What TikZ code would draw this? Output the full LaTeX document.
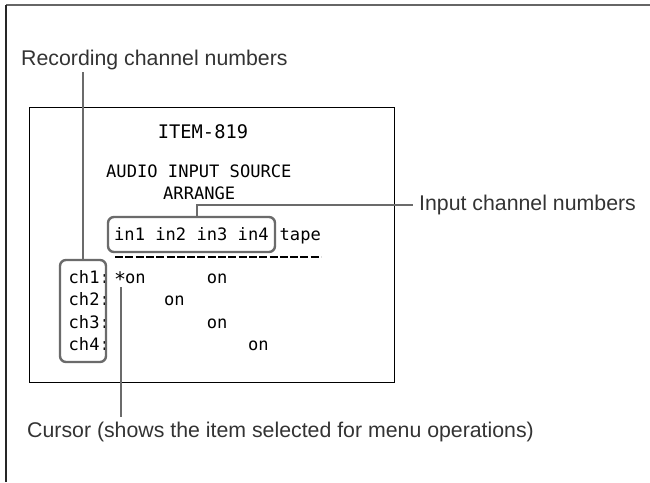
\documentclass[tikz,border=0pt]{standalone}
\usepackage{fontspec}
\setmainfont{Liberation Sans}
\newfontfamily\lcdfont{DejaVu Sans Mono}
\usetikzlibrary{positioning}

\begin{document}
\begin{tikzpicture}[
    x=1pt, y=-1pt,
    callout/.style={font=\fontsize{21.3}{24}\selectfont, text=black!80, inner sep=0pt},
    screen/.style={font=\lcdfont\fontsize{17.1}{20}\selectfont, inner sep=0pt},
    callbox/.style={draw=black!58, line width=2.4pt, rounded corners=6pt, inner sep=0pt},
    callline/.style={draw=black!58, line width=2.4pt}
]
\useasboundingbox (0,0) rectangle (650,482);

% Page frame
\draw[black!60, line width=2pt] (6,5) -- (650,5);
\draw[black!85, line width=1.2pt] (6,482) -- (6,5);

% Menu screen
\draw[line width=1pt] (29,107) rectangle (394,382);
\node[screen, font=\lcdfont\fontsize{18.7}{22}\selectfont, anchor=base] (title) at (203,138) {ITEM-819};
\node[screen, anchor=base west] (head1) at (106,177) {AUDIO INPUT SOURCE};
\node[screen, anchor=base west] (head2) at (163,199) {ARRANGE};
\node[screen, anchor=base west] (inputs) at (114,240) {in1 in2 in3 in4};
\node[screen, anchor=base west] (tape) at (279.5,240) {tape};
\draw[dash pattern=on 8pt off 2.3pt, line width=1.3pt] (115,257) -- (321,257);

% Channel rows
\foreach \n/\y in {1/283,2/305.5,3/328,4/350.5}
    \node[screen, anchor=base west] (ch\n) at (68.5,\y) {ch\n:};
\node[screen, anchor=base west] (star) at (114,283) {\raisebox{-3.5pt}{\fontsize{20}{20}\selectfont*}};
\node[screen, anchor=base west] (on11) at (125,283) {on};
\node[screen, anchor=base west] (on13) at (206.7,283) {on};
\node[screen, anchor=base west] (on22) at (164,305.5) {on};
\node[screen, anchor=base west] (on33) at (206.7,328) {on};
\node[screen, anchor=base west] (on44) at (247.9,350.5) {on};

% Callout boxes
\node[callbox, minimum width=46, minimum height=102] (chbox) at (83,311) {};
\node[callbox, minimum width=167, minimum height=35] (inbox) at (191.5,234.5) {};

% Callout labels
\node[callout, anchor=base west] (reclabel) at (21,65) {Recording channel numbers};
\node[callout, anchor=west] (inlabel) at (419,205) {Input channel numbers};
\node[callout, anchor=base west] (curlabel) at (27,437) {Cursor (shows the item selected for menu operations)};

% Callout lines
\coordinate (rectip) at (83,72);
\coordinate (curtip) at (121,417);
\draw[callline] (chbox.north) -- (rectip);
\draw[callline] ([xshift=5.5pt]inbox.north) |- ([xshift=-6pt]inlabel.west);
\draw[callline] (curtip |- 0,287) -- (curtip);

\end{tikzpicture}
\end{document}
